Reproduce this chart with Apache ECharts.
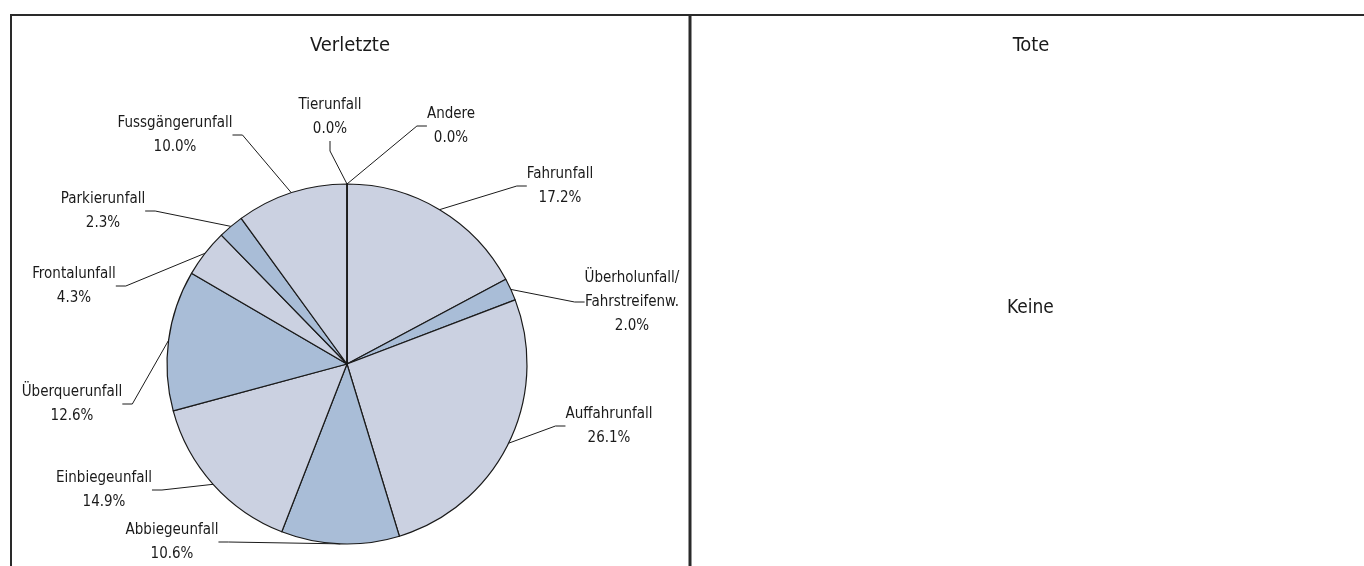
<!DOCTYPE html>
<html>
<head>
<meta charset="utf-8">
<script src="https://cdn.jsdelivr.net/npm/echarts@6/dist/echarts.min.js"></script>
<style>
    html, body {margin: 0; padding: 0; background: #ffffff;}
    #chart {width: 1364px; height: 566px;}
</style>
</head>
<body>
<div id="chart"></div>
<script>
// Unfalltypen (Verletzte), Anteile in Prozent
var Kategorien = ['Fahrunfall', 'Überholunfall/\nFahrstreifenw.', 'Auffahrunfall', 'Abbiegeunfall',
    'Einbiegeunfall', 'Überquerunfall', 'Frontalunfall', 'Parkierunfall', 'Fussgängerunfall',
    'Tierunfall', 'Andere']
var Anteile = [17.2, 2.0, 26.1, 10.6, 14.9, 12.6, 4.3, 2.3, 10.0, 0.0, 0.0]
var Farben = ['#cbd1e1', '#a9bdd7', '#cbd1e1', '#a9bdd7', '#cbd1e1', '#a9bdd7',
    '#cbd1e1', '#a9bdd7', '#cbd1e1', '#cbd1e1', '#cbd1e1']
var TitelLinks = 'Verletzte'
var TitelRechts = 'Tote'
var TextRechts = 'Keine'

var schrift = "'Liberation Sans Narrow', 'DejaVu Sans Condensed', 'Open Sans', sans-serif"

// Positionen der Beschriftungen (Mitte des Textblocks)
var LabelPos = [
    [560, 186], [632, 302], [609, 426], [172, 542], [104, 490], [72, 404],
    [74, 286], [103, 211], [175, 135], [330, 117], [451, 126]
]

var pieData = []
for (let i = 0; i < Kategorien.length; i++) {
    pieData.push({value: Anteile[i], name: Kategorien[i], itemStyle: {color: Farben[i]}})
}

var chartDom = document.getElementById('chart');
var myChart = echarts.init(chartDom);
var option;

option = {
    animation: false,
    title: [
        {
            text: TitelLinks, left: 345, top: 31, textAlign: 'center',
            textStyle: {color: '#1a1a1a', fontFamily: schrift, fontWeight: 'normal', fontSize: 20}
        },
        {
            text: TitelRechts, left: 1026, top: 31, textAlign: 'center',
            textStyle: {color: '#1a1a1a', fontFamily: schrift, fontWeight: 'normal', fontSize: 20}
        }
    ],
    graphic: [
        // Rahmen
        {type: 'line', shape: {x1: 10, y1: 15, x2: 1364, y2: 15}, style: {stroke: '#2a2a2a', lineWidth: 2}},
        {type: 'line', shape: {x1: 11, y1: 14, x2: 11, y2: 566}, style: {stroke: '#2a2a2a', lineWidth: 2}},
        {type: 'line', shape: {x1: 690, y1: 14, x2: 690, y2: 566}, style: {stroke: '#2a2a2a', lineWidth: 3}},
        {
            type: 'text', left: 1007, top: 299,
            style: {text: TextRechts, fill: '#1a1a1a', font: '19px ' + schrift}
        }
    ],
    series: [
        {
            type: 'pie',
            center: [347, 364],
            radius: 180,
            startAngle: 90,
            clockwise: true,
            avoidLabelOverlap: false,
            itemStyle: {borderColor: '#1a1a1a', borderWidth: 1.2},
            label: {
                show: true,
                color: '#1a1a1a',
                fontFamily: schrift,
                fontSize: 15,
                lineHeight: 24,
                align: 'center',
                formatter: function (p) {
                    return p.name + '\n' + p.value.toFixed(1) + '%'
                }
            },
            labelLine: {
                show: true,
                length: 15,
                length2: 10,
                lineStyle: {color: '#1a1a1a', width: 1}
            },
            labelLayout: function (params) {
                let pos = LabelPos[params.dataIndex]
                return {
                    x: pos[0],
                    y: pos[1],
                    align: 'center',
                    verticalAlign: 'middle',
                    moveOverlap: false
                }
            },
            emphasis: {disabled: true},
            data: pieData
        }
    ]
};

option && myChart.setOption(option);
</script>
</body>
</html>
